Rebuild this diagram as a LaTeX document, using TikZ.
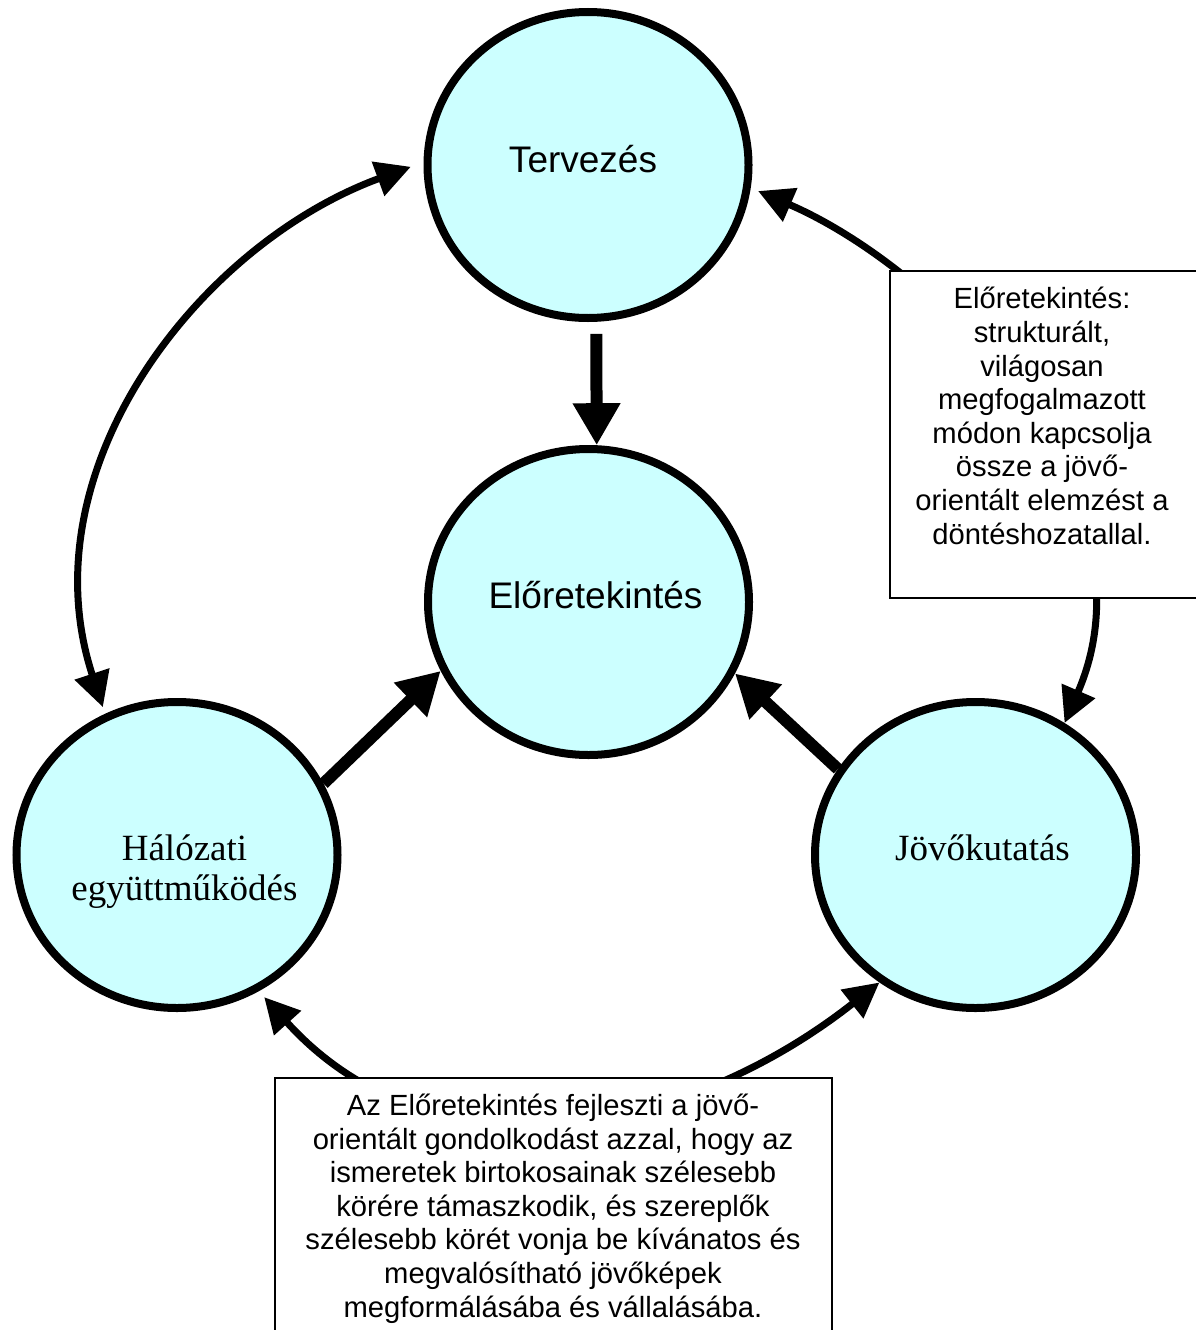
\documentclass[tikz,border=0pt]{standalone}
\usepackage{fontspec}
\setmainfont{Liberation Sans}
\newfontfamily\serifface{Liberation Serif}
\usetikzlibrary{arrows.meta,shapes.geometric}

\definecolor{bubblefill}{HTML}{CCFFFF}

\tikzset{
  bubble/.style={ellipse, draw=black, line width=8pt, fill=bubblefill,
    minimum width=321pt, minimum height=306pt, inner sep=0pt},
  bubbletext/.style={anchor=base, inner sep=0pt, font=\fontsize{37}{41}\selectfont},
  seriftext/.style={anchor=base, inner sep=0pt, align=center,
    font=\serifface\fontsize{37}{40}\selectfont},
  notebox/.style={draw=black, line width=1.5pt, fill=white, inner sep=0pt,
    anchor=north west},
  notetext/.style={anchor=base, inner sep=0pt, align=center,
    font=\fontsize{29.2}{33.6}\selectfont},
  mainflow/.style={line width=12pt, -{Triangle[length=42pt,width=45pt]}},
  loopline/.style={line width=7pt,
    {Triangle[length=35pt,width=35pt]}-{Triangle[length=35pt,width=35pt]}},
}

\begin{document}
\begin{tikzpicture}[x=1pt,y=-1pt]
\useasboundingbox (0,0) rectangle (1195,1330);

% the four circles
\node[bubble] (T) at (588,165) {};
\node[bubble] (E) at (588.5,602) {};
\node[bubble] (H) at (177,855) {};
\node[bubble] (J) at (975.5,855) {};

% outer cycle of double-headed arcs
\draw[loopline, shorten <=7pt, shorten >=13.5pt]
  (H.117) .. controls (25,470) and (198,245) .. (T.179);
\draw[loopline, shorten <=8pt]
  (T.352) .. controls (941,270) and (1163,496) .. (J.56);
\draw[loopline, shorten <=8pt]
  (H.301) .. controls (432,1183) and (682,1138) .. (J.233);

% flows into the centre
\draw[mainflow, shorten <=12pt] (T.273) -- (E.87);
\draw[mainflow] (H.26) -- (E.205);
\draw[mainflow] (J.148) -- (E.334);

% circle labels (base = baseline of the last line)
\node[bubbletext] (Tt) at (583,172) {Tervezés};
\node[bubbletext] (Et) at (595.5,608) {Előretekintés};
\node[seriftext] (Ht) at (184.5,900) {Hálózati\\együttműködés};
\node[seriftext] (Jt) at (982.5,860) {Jövőkutatás};

% explanatory boxes
\node[notebox, minimum width=330pt, minimum height=327pt] (R) at (889,270) {};
\node[notetext] (Rt) at (1042,544)
  {Előretekintés:\\strukturált,\\világosan\\megfogalmazott\\módon kapcsolja\\össze a jövő-\\orientált elemzést a\\döntéshozatallal.};

\node[notebox, minimum width=557pt, minimum height=300pt] (B) at (274,1077) {};
\node[notetext] (Bt) at (553,1317)
  {Az Előretekintés fejleszti a jövő-\\orientált gondolkodást azzal, hogy az\\ismeretek birtokosainak szélesebb\\körére támaszkodik, és szereplők\\szélesebb körét vonja be kívánatos és\\megvalósítható jövőképek\\megformálásába és vállalásába.};
\end{tikzpicture}
\end{document}
